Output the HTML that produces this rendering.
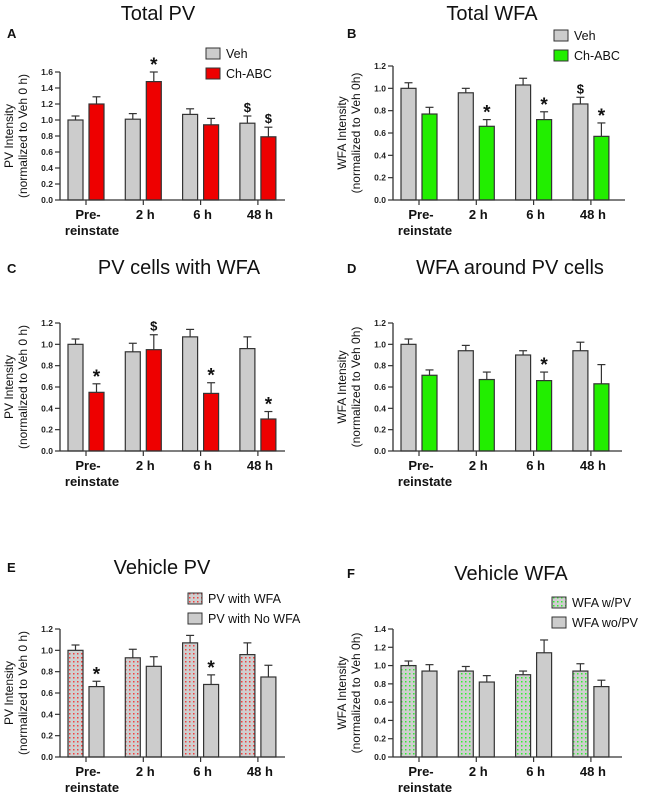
<!DOCTYPE html>
<html><head><meta charset="utf-8">
<style>
html,body{margin:0;padding:0;background:#fff;}
svg{display:block;font-family:"Liberation Sans",Arial,sans-serif;}
</style></head>
<body>
<svg id="fig" width="649" height="796" viewBox="0 0 649 796" xmlns="http://www.w3.org/2000/svg">
<defs>
<pattern id="dotRed" width="4" height="4" patternUnits="userSpaceOnUse">
<rect width="4" height="4" fill="#cfcfcf"/><rect x="1" y="1" width="1.5" height="1.5" fill="#f04040"/>
</pattern>
<pattern id="dotGreen" width="4" height="4" patternUnits="userSpaceOnUse">
<rect width="4" height="4" fill="#cfcfcf"/><rect x="1" y="1" width="1.5" height="1.5" fill="#33ee33"/>
</pattern>
</defs>
</svg>
<script>
const categories = [["Pre-","reinstate"],["2 h"],["6 h"],["48 h"]];
// Panel A
const aVeh = [1.00, 1.01, 1.07, 0.96];
const aVehErr = [0.05, 0.07, 0.07, 0.09];
const aChabc = [1.20, 1.48, 0.94, 0.79];
const aChabcErr = [0.09, 0.12, 0.08, 0.12];
const aTicks = ["0.0","0.2","0.4","0.6","0.8","1.0","1.2","1.4","1.6"];
// Panel B
const bVeh = [1.00, 0.96, 1.03, 0.86];
const bVehErr = [0.05, 0.04, 0.06, 0.06];
const bChabc = [0.77, 0.66, 0.72, 0.57];
const bChabcErr = [0.06, 0.06, 0.07, 0.12];
const bTicks = ["0.0","0.2","0.4","0.6","0.8","1.0","1.2"];
// Panel C
const cVeh = [1.00, 0.93, 1.07, 0.96];
const cVehErr = [0.05, 0.08, 0.07, 0.11];
const cChabc = [0.55, 0.95, 0.54, 0.30];
const cChabcErr = [0.08, 0.14, 0.10, 0.07];
const cTicks = ["0.0","0.2","0.4","0.6","0.8","1.0","1.2"];
// Panel D
const dVeh = [1.00, 0.94, 0.90, 0.94];
const dVehErr = [0.05, 0.05, 0.04, 0.08];
const dChabc = [0.71, 0.67, 0.66, 0.63];
const dChabcErr = [0.05, 0.07, 0.08, 0.18];
const dTicks = ["0.0","0.2","0.4","0.6","0.8","1.0","1.2"];
// Panel E
const eWith = [1.00, 0.93, 1.07, 0.96];
const eWithErr = [0.05, 0.08, 0.07, 0.11];
const eNo = [0.66, 0.85, 0.68, 0.75];
const eNoErr = [0.05, 0.09, 0.09, 0.11];
const eTicks = ["0.0","0.2","0.4","0.6","0.8","1.0","1.2"];
// Panel F
const fWith = [1.00, 0.94, 0.90, 0.94];
const fWithErr = [0.05, 0.05, 0.04, 0.08];
const fWo = [0.94, 0.82, 1.14, 0.77];
const fWoErr = [0.07, 0.07, 0.14, 0.07];
const fTicks = ["0.0","0.2","0.4","0.6","0.8","1.0","1.2","1.4"];

const NS = "http://www.w3.org/2000/svg";
const svg = document.getElementById('fig');
function mk(tag, attrs, parent, text){
  const e = document.createElementNS(NS, tag);
  for (const k in attrs) e.setAttribute(k, attrs[k]);
  if (text !== undefined) e.textContent = text;
  (parent || svg).appendChild(e);
  return e;
}

function panel(p){
  const g = mk('g', {});
  
  
  const maxV = parseFloat(p.ticks[p.ticks.length-1]);
  const y = v => p.base - (v / maxV) * (p.base - p.top);
  const cx = i => p.left + 26 + 57.3 * i;
  // title & letter
  const t = mk('text', {x:p.tx, y:p.ty, 'font-size':20, 'text-anchor':'middle', fill:'#111'}, g, p.title);
  
  
  const l = mk('text', {x:p.lx, y:p.ly, 'font-size':13, 'font-weight':'bold', fill:'#111'}, g, p.letter);
  
  
  // y axis title
  const yt = mk('text', {transform:`translate(${p.left-40},${(p.base+p.top)/2}) rotate(-90)`, 'font-size':12, 'text-anchor':'middle', fill:'#111'}, g);
  
  
  mk('tspan', {x:0, dy:-7}, yt, p.ytitle1);
  mk('tspan', {x:0, dy:14}, yt, p.ytitle2);
  // bars
  const series = [[p.s1, p.e1, p.f1, 'bar-a'], [p.s2, p.e2, p.f2, 'bar-b']];
  series.forEach((s, si) => {
    s[0].forEach((v, i) => {
      const x = cx(i) + (si === 0 ? -18 : 3);
      const ey = y(v + s[1][i]);
      const eb = mk('line', {x1:x+7.5, x2:x+7.5, y1:y(v), y2:ey, stroke:'#333', 'stroke-width':1.2}, g);
      
      
      mk('line', {x1:x+3.5, x2:x+11.5, y1:ey, y2:ey, stroke:'#333', 'stroke-width':1.2}, g);
      const r = mk('rect', {x:x, y:y(v), width:15, height:p.base - y(v), fill:s[2], stroke:'#333', 'stroke-width':1.2}, g);
      
      
      const ann = p.ann[si][i];
      if (ann) {
        const at = mk('text', {x:x+7.5, y:ey - (ann === '*' ? 1 : 4), 'font-size': ann === '*' ? 19 : 13, 'font-weight':'bold', 'text-anchor':'middle', fill:'#111'}, g, ann);
        
        
      }
    });
  });
  // axes
  const ya = mk('line', {x1:p.left, x2:p.left, y1:p.top, y2:p.base, stroke:'#333', 'stroke-width':1.3}, g);
  
  
  const xa = mk('line', {x1:p.left, x2:p.right, y1:p.base, y2:p.base, stroke:'#333', 'stroke-width':1.3}, g);
  
  
  p.ticks.forEach(tk => {
    const yy = y(parseFloat(tk));
    mk('line', {x1:p.left-5, x2:p.left, y1:yy, y2:yy, stroke:'#333', 'stroke-width':1.2}, g);
    const tl = mk('text', {x:p.left-7, y:yy+3, 'font-size':8.5, 'font-weight':'bold', 'text-anchor':'end', fill:'#222'}, g, tk);
    
    
  });
  categories.forEach((c, i) => {
    mk('line', {x1:cx(i), x2:cx(i), y1:p.base, y2:p.base+5, stroke:'#333', 'stroke-width':1.2}, g);
    c.forEach((line, li) => {
      const xl = mk('text', {x:cx(i) + (li === 1 ? 6 : 2), y:p.base + 19 + li*16, 'font-size':13, 'font-weight':'bold', 'text-anchor':'middle', fill:'#111'}, g, line);
      
      
    });
  });
  // legend
  if (p.legend) {
    p.legend.forEach((le, i) => {
      const ly = p.legY + i * 20;
      const lb = mk('rect', {x:p.legX, y:ly, width:14, height:11, fill:le[1], stroke:'#333', 'stroke-width':1}, g);
      
      
      const lt = mk('text', {x:p.legX+20, y:ly+10, 'font-size':12.5, fill:'#111'}, g, le[0]);
      
      
    });
  }
}

const GRAY = '#cccccc', RED = '#ee0000', GREEN = '#22ee00';
panel({name:'panel-a', title:'Total PV', tx:158, ty:20, letter:'A', lx:7, ly:38,
  ytitle1:'PV Intensity', ytitle2:'(normalized to Veh 0 h)',
  left:60, right:285, top:72, base:200, ticks:aTicks,
  s1:aVeh, e1:aVehErr, f1:GRAY, s2:aChabc, e2:aChabcErr, f2:RED,
  ann:[[null,null,null,'$'],[null,'*',null,'$']],
  legend:[['Veh',GRAY],['Ch-ABC',RED]], legX:206, legY:48});
panel({name:'panel-b', title:'Total WFA', tx:492, ty:20, letter:'B', lx:347, ly:38,
  ytitle1:'WFA Intensity', ytitle2:'(normalized to Veh 0h)',
  left:393, right:625, top:66, base:200, ticks:bTicks,
  s1:bVeh, e1:bVehErr, f1:GRAY, s2:bChabc, e2:bChabcErr, f2:GREEN,
  ann:[[null,null,null,'$'],[null,'*','*','*']],
  legend:[['Veh',GRAY],['Ch-ABC',GREEN]], legX:554, legY:30});
panel({name:'panel-c', title:'PV cells with WFA', tx:179, ty:274, letter:'C', lx:7, ly:273,
  ytitle1:'PV Intensity', ytitle2:'(normalized to Veh 0 h)',
  left:60, right:285, top:323, base:451, ticks:cTicks,
  s1:cVeh, e1:cVehErr, f1:GRAY, s2:cChabc, e2:cChabcErr, f2:RED,
  ann:[[null,null,null,null],['*','$','*','*']]});
panel({name:'panel-d', title:'WFA around PV cells', tx:510, ty:274, letter:'D', lx:347, ly:273,
  ytitle1:'WFA Intensity', ytitle2:'(normalized to Veh 0h)',
  left:393, right:622, top:323, base:451, ticks:dTicks,
  s1:dVeh, e1:dVehErr, f1:GRAY, s2:dChabc, e2:dChabcErr, f2:GREEN,
  ann:[[null,null,null,null],[null,null,'*',null]]});
panel({name:'panel-e', title:'Vehicle PV', tx:162, ty:574, letter:'E', lx:7, ly:572,
  ytitle1:'PV Intensity', ytitle2:'(normalized to Veh 0 h)',
  left:60, right:285, top:629, base:757, ticks:eTicks,
  s1:eWith, e1:eWithErr, f1:'url(#dotRed)', s2:eNo, e2:eNoErr, f2:GRAY,
  ann:[[null,null,null,null],['*',null,'*',null]],
  legend:[['PV with WFA','url(#dotRed)'],['PV with No WFA',GRAY]], legX:188, legY:593});
panel({name:'panel-f', title:'Vehicle WFA', tx:511, ty:580, letter:'F', lx:347, ly:578,
  ytitle1:'WFA Intensity', ytitle2:'(normalized to Veh 0h)',
  left:393, right:622, top:629, base:757, ticks:fTicks,
  s1:fWith, e1:fWithErr, f1:'url(#dotGreen)', s2:fWo, e2:fWoErr, f2:GRAY,
  ann:[[null,null,null,null],[null,null,null,null]],
  legend:[['WFA w/PV','url(#dotGreen)'],['WFA wo/PV',GRAY]], legX:552, legY:597});
</script>
</body></html>
